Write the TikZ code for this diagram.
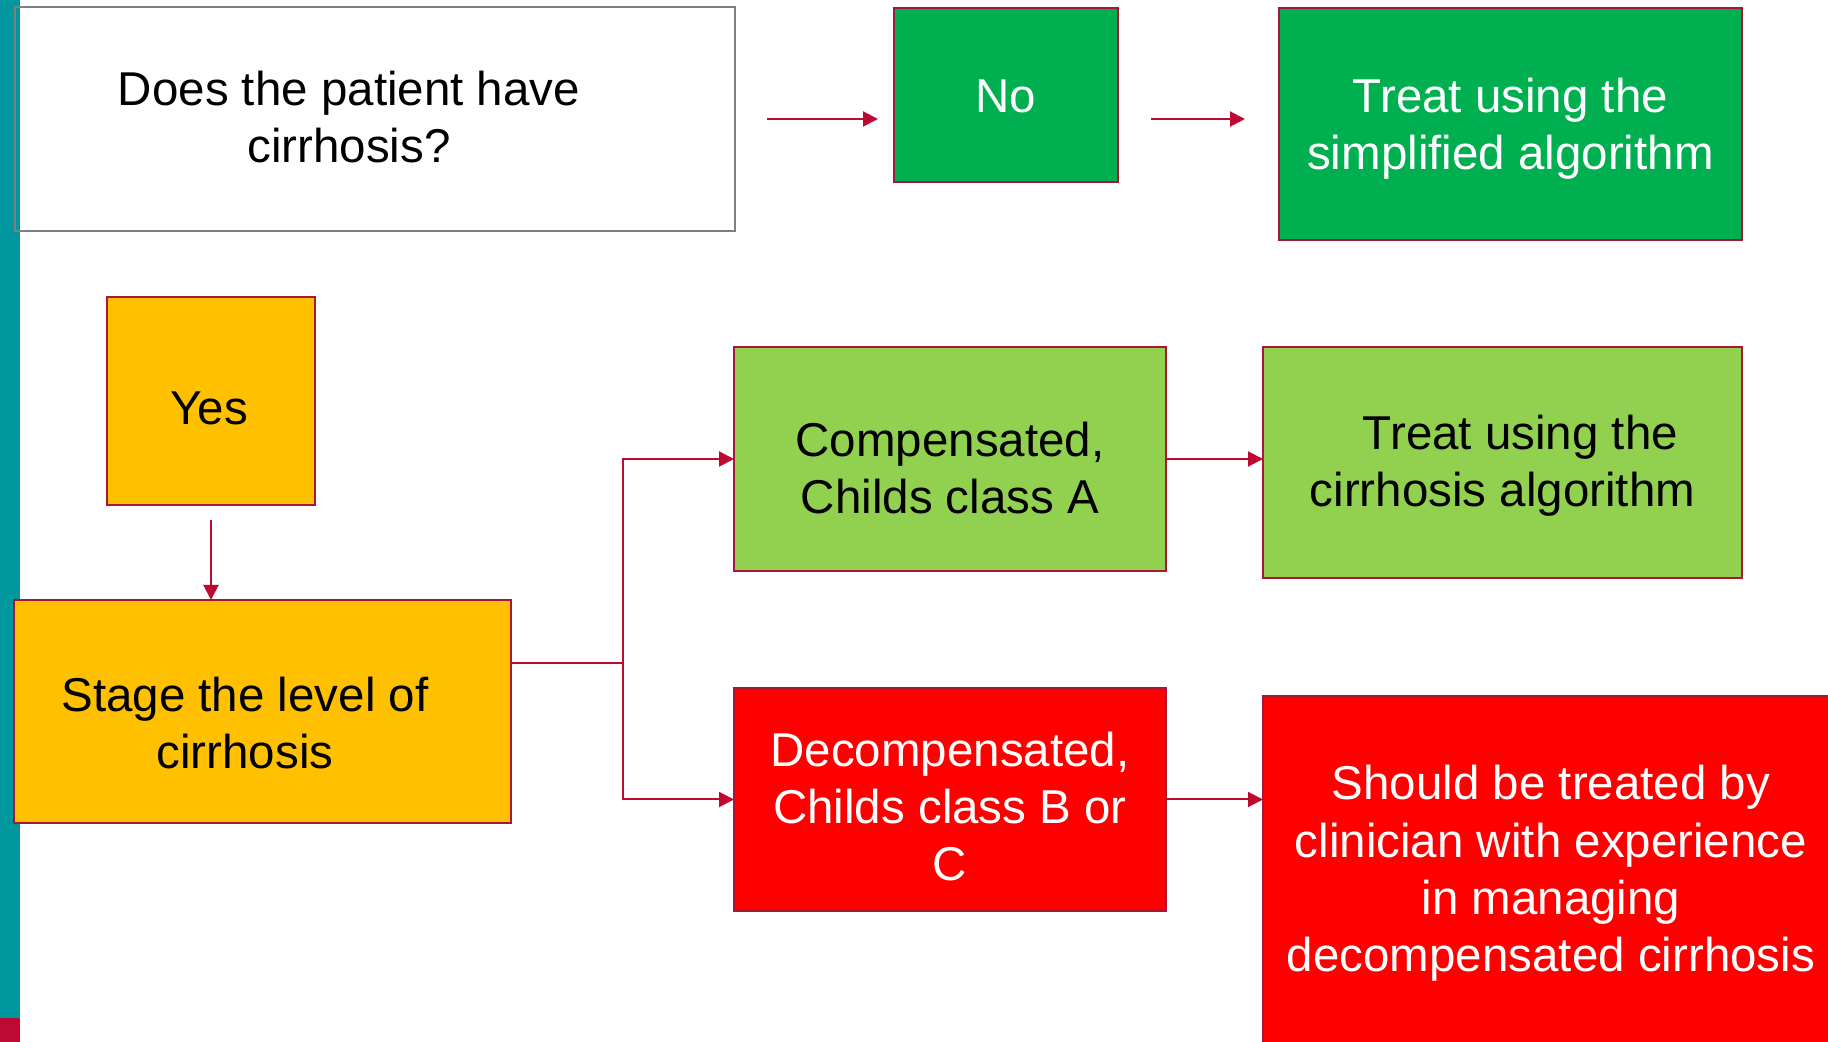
\documentclass[tikz,border=0pt]{standalone}
\usepackage{fontspec}
\setmainfont{Liberation Sans}
\usetikzlibrary{arrows.meta,calc}
\definecolor{tealbar}{HTML}{00979F}
\definecolor{redmark}{HTML}{BE0A32}
\definecolor{bord}{HTML}{A8173A}
\definecolor{arr}{HTML}{BE0A32}
\definecolor{greyb}{HTML}{7F7F7F}
\definecolor{gdark}{HTML}{00B050}
\definecolor{glight}{HTML}{92D050}
\definecolor{yel}{HTML}{FFC000}
\definecolor{redbox}{HTML}{FF0000}
\begin{document}
\begin{tikzpicture}[x=0.5pt,y=-0.5pt,
  font=\fontsize{23.75}{28.7}\selectfont,
  box/.style={draw=bord, line width=1pt, inner sep=0pt, outer sep=0pt},
  txt/.style={inner sep=0pt, align=center},
  conn/.style={draw=arr, line width=1pt, -{Triangle[length=7.5pt,width=7.5pt]}},
  plainline/.style={draw=arr, line width=1pt}]
\useasboundingbox (0,0) rectangle (1828,1042);
\clip (0,0) rectangle (1828,1042);
\fill[white] (0,0) rectangle (1828,1042);
\fill[tealbar] (0,0) rectangle (20,1018);
\fill[redmark] (0,1018) rectangle (20,1042);

% boxes
\node[box, draw=greyb, minimum width=360pt, minimum height=112pt] (q) at (374.5,119) {};
\node[txt] (qt) at (349,117) {Does the patient have\\cirrhosis?};

\node[box, fill=gdark, minimum width=112pt, minimum height=87pt] (no) at (1006,95) {};
\node[txt, text=white, yshift=-0.5pt] (not) at (no) {No};

\node[box, fill=gdark, minimum width=231.5pt, minimum height=116pt] (simp) at (1510.5,124) {};
\node[txt, text=white, yshift=-2.5pt] (simpt) at (simp) {Treat using the\\simplified algorithm};

\node[box, fill=yel, minimum width=104pt, minimum height=104pt] (yes) at (211,401) {};
\node[txt, yshift=-3.5pt, xshift=-1pt] (yest) at (yes) {Yes};

\node[box, fill=yel, minimum width=248.5pt, minimum height=111.5pt] (stage) at (262.5,711.5) {};
\node[txt] (stt) at (245,723) {Stage the level of\\cirrhosis};

\node[box, fill=glight, minimum width=216pt, minimum height=112pt] (comp) at (950,459) {};
\node[txt, yshift=-4.5pt] (compt) at (comp) {Compensated,\\Childs class A};

\node[box, fill=glight, minimum width=239.5pt, minimum height=115.5pt] (cirr) at (1502.5,462.5) {};
\node[txt, yshift=-1.75pt] (cirrt) at (cirr) {\hspace*{18pt}Treat using the\\cirrhosis algorithm};

\node[box, fill=redbox, minimum width=216pt, minimum height=111.5pt] (decomp) at (950,799.5) {};
\node[txt, text=white, yshift=-3.5pt] (decompt) at (decomp) {Decompensated,\\Childs class B or\\C};

\node[box, fill=redbox, minimum width=288pt, minimum height=174pt] (should) at (1551,870) {};
\node[txt, text=white, yshift=-1.75pt] (shouldt) at (should) {Should be treated by\\clinician with experience\\in managing\\decompensated cirrhosis};

% connectors
\draw[conn] ([xshift=16pt]q.east) -- ([xshift=-8pt]q.east -| no.west);
\draw[conn] ([xshift=16.5pt]no.east |- q.east) -- ([xshift=-17pt]simp.west |- q.east);
\draw[conn] ([yshift=-7.5pt]yes.south) -- (yes.south |- stage.north);

\coordinate (sj) at (623,663);
\draw[plainline] (stage.east |- sj) -- (sj);
\draw[conn] (sj) |- (comp.west);
\draw[conn] (sj) |- (decomp.west);
\draw[plainline] (sj) -- (623,709);

\draw[conn] (comp.east) -- (cirr.west |- comp.east);
\draw[conn] (decomp.east) -- (should.west |- decomp.east);
\end{tikzpicture}
\end{document}
